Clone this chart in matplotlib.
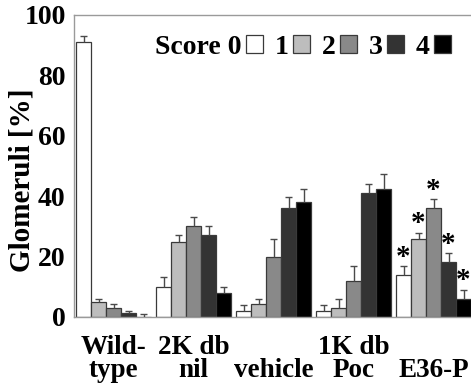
import numpy as np
import matplotlib
matplotlib.use("Agg")
import matplotlib.pyplot as plt

# glomerulosclerosis score distribution per group (% of glomeruli)
groups = ["Wild-\ntype", "2K db\nnil", "\nvehicle", "1K db\nPoc", "\nE36-P"]
scores = ["Score 0", "1", "2", "3", "4"]
score0 = [91, 9.9, 1.8, 1.8, 13.8]
score1 = [4.8, 24.9, 4.1, 2.9, 25.9]
score2 = [3.0, 30.1, 19.9, 11.9, 35.9]
score3 = [1.1, 27.1, 35.9, 41.1, 18.0]
score4 = [0.0, 8.0, 37.9, 42.2, 6.0]
err0 = [1.9, 3.1, 2.1, 2.1, 3.0]
err1 = [1.2, 2.1, 1.9, 3.1, 1.9]
err2 = [1.1, 2.9, 6.0, 4.9, 3.1]
err3 = [0.8, 2.9, 3.9, 3.0, 3.0]
err4 = [1.0, 1.9, 4.5, 5.0, 2.9]
starred = [False, False, False, False, True]  # * p<0.05 vs vehicle

colors = ["#ffffff", "#bdbdbd", "#898989", "#333333", "#000000"]
vals = [score0, score1, score2, score3, score4]
errs = [err0, err1, err2, err3, err4]

plt.rcParams["font.family"] = ["Liberation Serif", "DejaVu Serif"]
plt.rcParams["font.weight"] = "bold"

fig = plt.figure(figsize=(4.71, 3.83), dpi=100)
ax = fig.add_axes([74/471, 66.3/383, 406/471, 301.7/383])

w = 0.1875
x = np.arange(len(groups))
handles = []
for i in range(5):
    xi = x + (i - 2) * w
    b = ax.bar(xi, vals[i], width=w, color=colors[i], edgecolor="#3a3a3a", linewidth=0.9, zorder=2)
    handles.append(b)
    tops = np.array(vals[i]) + np.array(errs[i])
    ax.vlines(xi, vals[i], tops, color="#4a4a4a", linewidth=1.0, zorder=3)
    ax.hlines(tops, xi - w*0.22, xi + w*0.22, color="#4a4a4a", linewidth=1.0, zorder=3)
    for g in range(len(groups)):
        if starred[g]:
            ax.text(xi[g], tops[g] + 0.5, "*", ha="center", va="baseline", fontsize=21, fontweight="bold")

ax.set_xlim(-0.494, -0.494 + 406/80)
ax.set_ylim(0, 100)
ax.set_yticks([0, 20, 40, 60, 80, 100])
ax.set_xticks(x)
ax.set_xticklabels(groups, fontsize=19.5, fontweight="bold", linespacing=0.92)
ax.tick_params(axis="x", length=0, pad=13)
ax.tick_params(axis="y", length=0, pad=6, labelsize=20)
for lab in ax.get_yticklabels():
    lab.set_fontweight("bold")
for s in ["left", "bottom", "top"]:
    ax.spines[s].set_color("#9a9a9a")
    ax.spines[s].set_linewidth(1.0)
ax.spines["right"].set_visible(False)

fig.text(22/471, 1 - 180/383, "Glomeruli [%]", rotation=90, ha="center", va="center",
         fontsize=21, fontweight="bold")

ax.legend(handles, scores, ncol=5, markerfirst=False, frameon=False,
          handlelength=0.62, handleheight=0.62, handletextpad=0.15, columnspacing=0.42,
          loc="upper left", bbox_to_anchor=((144-74)/406, 1 - 9/301.7), borderaxespad=0,
          prop={"weight": "bold", "size": 20})

fig.savefig("out.png", dpi=100)
